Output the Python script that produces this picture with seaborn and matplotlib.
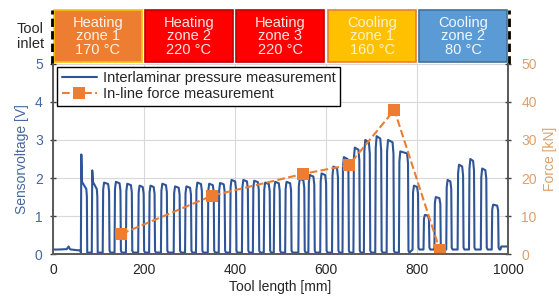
import matplotlib
matplotlib.use("Agg")
import matplotlib.pyplot as plt
import matplotlib.transforms as mtransforms
from matplotlib.patches import Rectangle
import pandas as pd
import seaborn as sns

# force measurement (in-line)
force_x = [150, 350, 550, 650, 750, 850]
force_kn = [5.3, 15.4, 21.1, 23.4, 37.9, 1.0]

# interlaminar pressure pulses
pulse_start = [61, 85, 109, 135, 160, 187, 211, 237, 265, 290, 314, 340, 364,
               389, 415, 439, 463, 485, 510, 539, 561, 587, 613, 636, 660, 683,
               708, 733, 760, 790, 814, 838, 864, 889, 914, 940, 964]
pulse_end = [75, 98, 124, 149, 174, 200, 224, 251, 279, 304, 328, 354, 378,
             403, 429, 453, 477, 499, 524, 553, 575, 601, 627, 650, 674, 697,
             722, 749, 781, 803, 827, 852, 876, 902, 926, 953, 979]
pulse_top = [1.9, 1.9, 1.88, 1.9, 1.85, 1.8, 1.8, 1.85, 1.78, 1.78, 1.88, 1.85,
             1.87, 1.95, 1.95, 1.93, 1.88, 1.9, 1.9, 1.98, 2.08, 2.12, 2.3, 2.55,
             2.8, 3.0, 3.1, 3.0, 2.7, 1.8, 1.03, 1.5, 1.95, 2.35, 2.5, 2.25, 1.3]
pulse_peak = [2.62, 2.2] + [None] * 35
pulse_base = [0.04] * 29 + [0.12] * 8

lead_x = [0, 10, 30, 34, 37, 40, 55, 60]
lead_v = [0.12, 0.12, 0.13, 0.2, 0.13, 0.12, 0.1, 0.1]
tail_x = [983, 985, 1000]
tail_v = [0.12, 0.2, 0.2]

zone_labels = ["Heating\nzone 1\n170 °C", "Heating\nzone 2\n220 °C",
               "Heating\nzone 3\n220 °C", "Cooling\nzone 1\n160 °C",
               "Cooling\nzone 2\n80 °C"]
zone_start = [1, 201, 403, 604, 805]
zone_end = [196, 396, 596, 798, 998]
zone_fill = ["#ED7D31", "#FF0000", "#FF0000", "#FFC000", "#5B9BD5"]
zone_edge = ["#FFC000", "#C00000", "#C00000", "#ED7D31", "#41719C"]
zone_text = ["#FFF2E6", "#FFE5E5", "#FFE5E5", "#FFF2CC", "#F2F7FC"]

BLUE = "#2F5597"
ORANGE = "#ED7D31"
LEFT_C = "#44679E"
RIGHT_C = "#DDA068"


def build_signal():
    xs, ys = list(lead_x), list(lead_v)
    for s, e, h, p, b in zip(pulse_start, pulse_end, pulse_top, pulse_peak, pulse_base):
        if p is not None:
            xs += [s, s + 1, s + 2.5, e - 2, e - 0.8, e]
            ys += [b, p, h, h * 0.9, h * 0.8, b]
        else:
            xs += [s, s + 1, s + 3, e - 3, e - 1, e, e + 2]
            ys += [b, h * 0.9, h, h * 0.98, h * 0.88, b + 0.05, b]
    xs += tail_x
    ys += tail_v
    return pd.DataFrame({"x": xs, "v": ys})


def main():
    sns.set_theme(style="whitegrid")
    plt.rcParams["font.family"] = ["Liberation Sans", "DejaVu Sans"]

    fig = plt.figure(figsize=(5.59, 3.0), dpi=100)
    ax = fig.add_axes([0.095, 0.153, 0.814, 0.634])
    ax2 = ax.twinx()

    sig = build_signal()
    sns.lineplot(data=sig, x="x", y="v", ax=ax, color=BLUE, linewidth=1.5,
                 sort=False, estimator=None, label="Interlaminar pressure measurement",
                 legend=False)
    force = pd.DataFrame({"x": force_x, "f": force_kn})
    sns.lineplot(data=force, x="x", y="f", ax=ax2, color=ORANGE, linewidth=1.5,
                 linestyle="--", marker="s", markersize=8, markeredgewidth=0,
                 label="In-line force measurement", legend=False)

    ax.set_xlim(0, 1000)
    ax.set_ylim(0, 5)
    ax2.set_ylim(0, 50)
    ax.set_xticks(range(0, 1001, 200))
    ax.set_yticks(range(0, 6))
    ax2.set_yticks(range(0, 51, 10))
    ax.grid(True, color="#D9D9D9", linewidth=0.8)
    ax2.grid(False)

    ax.set_xlabel("Tool length [mm]", fontsize=10, color="#262626", labelpad=2)
    ax.set_ylabel("Sensorvoltage [V]", fontsize=10, color=LEFT_C, labelpad=4)
    ax2.set_ylabel("Force [kN]", fontsize=10, color=RIGHT_C, labelpad=4)
    ax.tick_params(axis="x", labelsize=10, colors="#404040", labelcolor="#262626",
                   direction="inout", length=5, pad=4, width=1)
    ax.tick_params(axis="y", labelsize=10, colors="#404040", labelcolor=LEFT_C,
                   direction="inout", length=5, pad=5, width=1)
    ax2.tick_params(axis="y", labelsize=10, colors="#404040", labelcolor=RIGHT_C,
                    direction="inout", length=5, pad=7, width=1)
    for a in (ax, ax2):
        for side in ("left", "right", "bottom"):
            a.spines[side].set_visible(True)
            a.spines[side].set_color("#595959")
            a.spines[side].set_linewidth(1.2)
        a.spines["top"].set_visible(False)

    h1, l1 = ax.get_legend_handles_labels()
    h2, l2 = ax2.get_legend_handles_labels()
    leg = ax2.legend(h1 + h2, l1 + l2, loc="upper left", bbox_to_anchor=(0.003, 1.0),
                     fontsize=10.5, frameon=True, fancybox=False, framealpha=1,
                     borderpad=0.3, handlelength=2.4, handletextpad=0.4,
                     labelspacing=0.15, borderaxespad=0.2)
    leg.get_frame().set_edgecolor("#000000")
    leg.get_frame().set_linewidth(1.0)

    # zone boxes above the axes
    trans = mtransforms.blended_transform_factory(ax.transData, ax.transAxes)
    for lab, s, e, fc, ec, tc in zip(zone_labels, zone_start, zone_end,
                                     zone_fill, zone_edge, zone_text):
        ax.add_patch(Rectangle((s, 1.008), e - s, 0.275, transform=trans,
                               facecolor=fc, edgecolor=ec, linewidth=1.2,
                               clip_on=False, zorder=5))
        ax.text((s + e) / 2, 1.146, lab, transform=trans, ha="center", va="center",
                fontsize=10.5, color=tc, linespacing=0.95, zorder=6, clip_on=False)
    for xv in (-2, 1002):
        ax.plot([xv, xv], [1.0, 1.285], transform=trans, color="black",
                linewidth=2, linestyle=(0, (3, 1.5)), clip_on=False, zorder=6)
    ax.text(-0.02, 1.146, "Tool\ninlet", transform=ax.transAxes, ha="right",
            va="center", fontsize=10.5, color="#262626", linespacing=1.1)

    fig.savefig("out.png", dpi=100)
    plt.close(fig)


if __name__ == "__main__":
    main()
